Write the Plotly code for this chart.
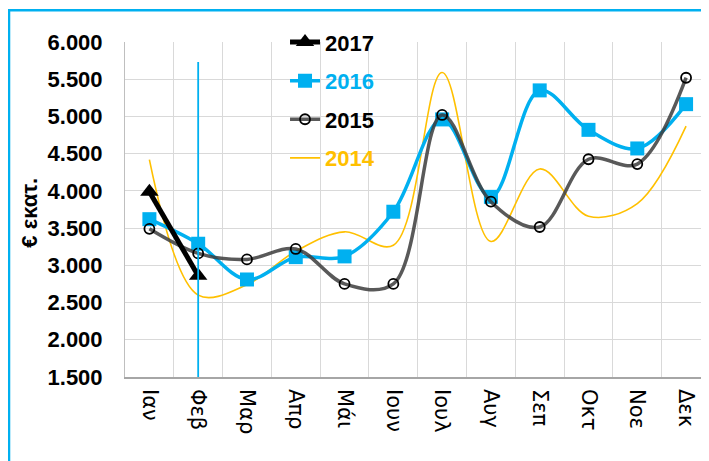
import plotly.graph_objects as go

MONTHS = ["Ιαν", "Φεβ", "Μαρ", "Απρ", "Μάι", "Ιουν", "Ιουλ", "Αυγ", "Σεπ", "Οκτ", "Νοε", "Δεκ"]
Y2017 = [3990, 2860]
Y2016 = [3620, 3290, 2810, 3110, 3120, 3720, 4960, 3920, 5350, 4820, 4570, 5165]
Y2015 = [3490, 3160, 3080, 3220, 2750, 2750, 5020, 3855, 3515, 4425, 4360, 5520]
Y2014 = [4420, 2600, 2740, 3190, 3450, 3270, 5590, 3320, 4295, 3660, 3830, 4870]
FEB_LINE_X = ["Φεβ", "Φεβ"]
FEB_LINE_Y = [1500, 5730]
Y_TICKS = [1500, 2000, 2500, 3000, 3500, 4000, 4500, 5000, 5500, 6000]
Y_TICK_LABELS = ["1.500", "2.000", "2.500", "3.000", "3.500", "4.000", "4.500", "5.000", "5.500", "6.000"]

BLUE = "#00B0F0"
ORANGE = "#FFC000"
FONT = "Liberation Sans, Arial, sans-serif"
XFONT = "DejaVu Sans, Verdana, sans-serif"

fig = go.Figure()

fig.add_trace(go.Scatter(
    x=MONTHS, y=Y2014, mode="lines", line=dict(color=ORANGE, width=1.6, shape="spline"),
    name="<span style='color:#FFC000'>2014</span>", legendgroup="d", legendrank=4,
))
fig.add_trace(go.Scatter(
    x=MONTHS, y=Y2016, mode="lines+markers", line=dict(color=BLUE, width=3.5, shape="spline"),
    marker=dict(symbol="square", size=14, color=BLUE),
    name="<span style='color:#00B0F0'>2016</span>", legendgroup="b", legendrank=2,
))
fig.add_trace(go.Scatter(
    x=MONTHS, y=Y2015, mode="lines+markers", line=dict(color="rgba(60,60,60,0.85)", width=3.5, shape="spline"),
    marker=dict(symbol="circle-open", size=10, color="#000000", line=dict(width=1.8)),
    name="2015", legendgroup="c", legendrank=3,
))
fig.add_trace(go.Scatter(
    x=MONTHS[:len(Y2017)], y=Y2017, mode="lines+markers", line=dict(color="#000000", width=5),
    marker=dict(symbol="triangle-up", size=16, color="#000000"),
    name="2017", legendgroup="a", legendrank=1,
))
fig.add_trace(go.Scatter(
    x=FEB_LINE_X, y=FEB_LINE_Y, mode="lines", line=dict(color=BLUE, width=1.8),
    showlegend=False, hoverinfo="skip",
))

fig.update_layout(
    width=701, height=453,
    margin=dict(l=117, r=0, t=34, b=84, autoexpand=False),
    paper_bgcolor="white", plot_bgcolor="white",
    font=dict(family=FONT, color="#000000"),
    legend=dict(
        x=0.274, y=1.062, xanchor="left", yanchor="top",
        font=dict(size=22, family=FONT, weight="bold"), tracegroupgap=7,
        bgcolor="rgba(0,0,0,0)", traceorder="grouped",
    ),
    showlegend=True,
    xaxis=dict(
        type="category", range=[-0.5, 11.47], tickson="boundaries", automargin=False,
        showgrid=True, gridcolor="#D9D9D9", gridwidth=1,
        showline=True, linecolor="#A6A6A6", linewidth=1.5,
        ticks="", tickangle=90, ticklabelstandoff=6,
        tickfont=dict(size=21, family=XFONT, color="#000000"),
        zeroline=False, fixedrange=True,
    ),
    yaxis=dict(
        range=[1500, 6000], tickvals=Y_TICKS, ticktext=Y_TICK_LABELS, automargin=False,
        showgrid=True, gridcolor="#D9D9D9", gridwidth=1,
        showline=True, linecolor="#BFBFBF", linewidth=1,
        ticks="", ticklabelstandoff=17,
        tickfont=dict(size=22, family=FONT, color="#000000", weight="bold"),
        zeroline=False, fixedrange=True,
    ),
    annotations=[dict(
        text="<b>€ εκατ.</b>", textangle=-90, xref="paper", yref="paper",
        x=-0.163, y=0.49, xanchor="center", yanchor="middle", showarrow=False,
        font=dict(size=22, family=FONT, color="#000000"),
    )],
    shapes=[dict(
        type="rect", xref="paper", yref="paper",
        x0=-0.1986, x1=1.2, y0=-0.5, y1=1.0948,
        line=dict(color=BLUE, width=2.5), fillcolor="rgba(0,0,0,0)", layer="below",
    )],
)

fig.write_html("out.html")
